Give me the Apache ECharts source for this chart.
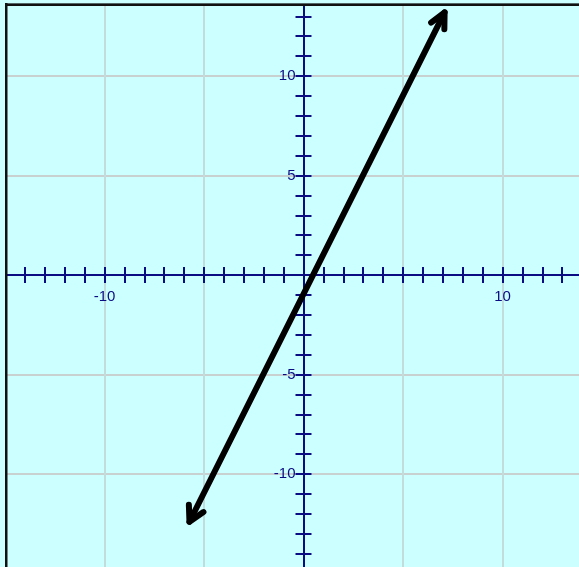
<!DOCTYPE html>
<html>
<head>
<meta charset="utf-8">
<style>
  html, body { margin: 0; padding: 0; background: #ccffff; }
  #main { width: 579px; height: 567px; }
</style>
<script src="https://cdn.jsdelivr.net/npm/echarts@6/dist/echarts.min.js"></script>
</head>
<body>
<div id="main"></div>
<script>
// line drawn with arrows at both ends (y = 2x - 1)
var lineX = [-5.73, 7.09];
var lineY = [-12.4, 13.2];

// labelled ticks
var xLabels = [-10, 10];
var yLabels = [-10, -5, 5, 10];

var axisColor = '#0c0c82';
// grid is 597px for 30 units, centred on zero -> axes pulled in by half of it
var toZero = -298.5;

var chart = echarts.init(document.getElementById('main'));

function headPoints(tip, from, len, ang) {
    var base = Math.atan2(from[1] - tip[1], from[0] - tip[0]);
    return [
        [tip[0] + len * Math.cos(base - ang), tip[1] + len * Math.sin(base - ang)],
        tip,
        [tip[0] + len * Math.cos(base + ang), tip[1] + len * Math.sin(base + ang)]
    ];
}

var tickAxis = function (pos, showLabel, labels, labelMargin, split, splitColor, splitWidth) {
    return {
        type: 'value',
        position: pos,
        offset: toZero,
        min: -15,
        max: 15,
        interval: 5,
        axisLine: { show: true, onZero: false, lineStyle: { color: axisColor, width: 2 } },
        axisTick: { show: true, length: 8, lineStyle: { color: axisColor, width: 2 } },
        minorTick: { show: true, splitNumber: 5, length: 8, lineStyle: { color: axisColor, width: 2 } },
        axisLabel: {
            show: showLabel,
            color: axisColor,
            fontFamily: 'Liberation Sans',
            fontSize: 15,
            margin: labelMargin,
            hideOverlap: false,
            formatter: function (v) {
                return labels.indexOf(v) >= 0 ? String(v) : '';
            }
        },
        splitLine: { show: split, lineStyle: { color: splitColor, width: splitWidth } },
        minorSplitLine: { show: false }
    };
};

var option = {
    animation: false,
    backgroundColor: '#ccffff',
    grid: {
        left: 5,
        right: -23,
        top: -23.5,
        bottom: -6.5,
        containLabel: false,
        outerBoundsMode: 'none',
        show: false
    },
    xAxis: [
        tickAxis('bottom', true, xLabels, 14, true, '#c2dcdc', 2),
        tickAxis('top', false, [], 8, false, '#000', 1)
    ],
    yAxis: [
        tickAxis('left', true, yLabels, 8, true, '#c9c0c0', 1.5),
        tickAxis('right', false, [], 8, false, '#000', 1)
    ],
    series: [{
        type: 'custom',
        xAxisIndex: 0,
        yAxisIndex: 0,
        clip: false,
        z: 10,
        data: [[lineX[0], lineY[0], lineX[1], lineY[1]]],
        renderItem: function (params, api) {
            var a = api.coord([api.value(0), api.value(1)]);
            var b = api.coord([api.value(2), api.value(3)]);
            var style = {
                stroke: '#000',
                fill: null,
                lineWidth: 6,
                lineCap: 'round',
                lineJoin: 'round'
            };
            return {
                type: 'group',
                children: [
                    { type: 'line', shape: { x1: a[0], y1: a[1], x2: b[0], y2: b[1] }, style: style },
                    { type: 'polyline', shape: { points: headPoints(b, a, 17, 0.45) }, style: style },
                    { type: 'polyline', shape: { points: headPoints(a, b, 17, 0.5) }, style: style }
                ]
            };
        }
    }],
    graphic: [
        { type: 'rect', z: 100, shape: { x: 0, y: 0, width: 579, height: 3 }, style: { fill: '#ccffff' } },
        { type: 'rect', z: 100, shape: { x: 0, y: 0, width: 5, height: 567 }, style: { fill: '#ccffff' } },
        { type: 'rect', z: 101, shape: { x: 5, y: 3, width: 574, height: 1 }, style: { fill: '#556666' } },
        { type: 'rect', z: 101, shape: { x: 5, y: 4, width: 574, height: 2 }, style: { fill: '#111111' } },
        { type: 'rect', z: 101, shape: { x: 5, y: 3, width: 2.5, height: 564 }, style: { fill: '#111111' } }
    ]
};

chart.setOption(option);
</script>
</body>
</html>
